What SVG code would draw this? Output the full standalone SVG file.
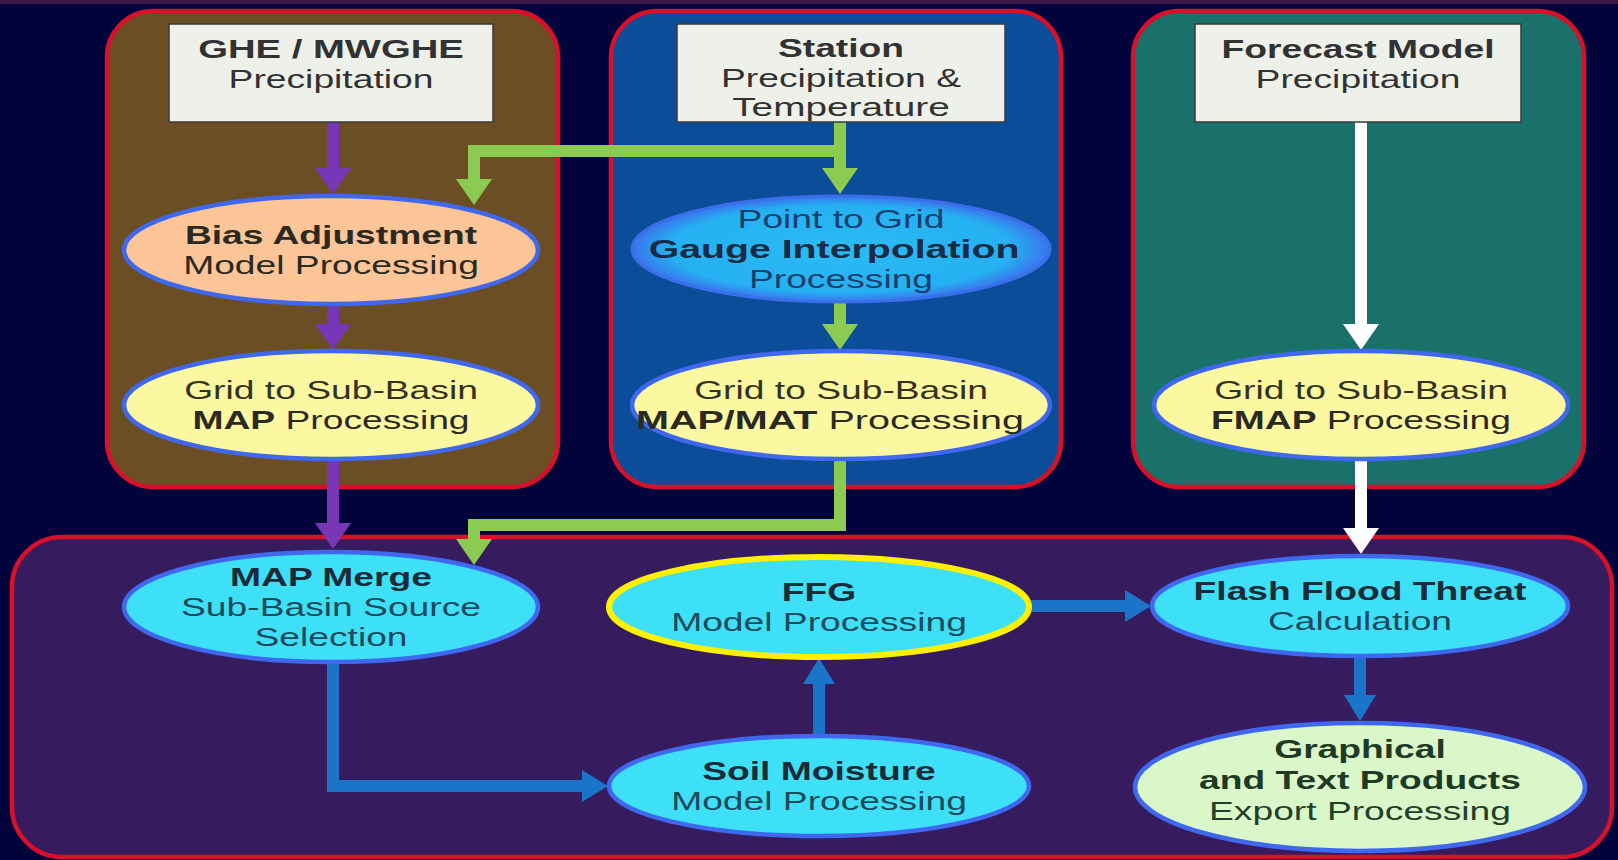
<svg xmlns="http://www.w3.org/2000/svg" width="1618" height="860" viewBox="0 0 1618 860">
<style>
.t{font-family:"Liberation Sans",Arial,Helvetica,sans-serif;font-size:25.5px;text-anchor:middle;fill:#323232}
.b{font-weight:bold}
.panel{stroke:#d8102a;stroke-width:4.5}
.box{fill:#eef0ea;stroke:#3a3a3a;stroke-width:1.5}
.el{stroke:#3f68ee;stroke-width:4.5}
.cy{fill:#3ee0f7}
.ct{fill:#1d4a5c}
.cb{fill:#1c2b38}
.c{fill:none;stroke-linejoin:miter}
.pu{stroke:#7636b6;stroke-width:12}
.gr{stroke:#8ccb52;stroke-width:12}
.wh{stroke:#ffffff;stroke-width:12}
.bl{stroke:#1a74c8;stroke-width:12}
</style>
<defs>
<marker id="hp" markerUnits="userSpaceOnUse" viewBox="0 0 26 36" refX="1" refY="18" markerWidth="26" markerHeight="36" orient="auto"><path d="M0,0 L26,18 L0,36 Z" fill="#7636b6"/></marker>
<marker id="hg" markerUnits="userSpaceOnUse" viewBox="0 0 26 36" refX="1" refY="18" markerWidth="26" markerHeight="36" orient="auto"><path d="M0,0 L26,18 L0,36 Z" fill="#8ccb52"/></marker>
<marker id="hw" markerUnits="userSpaceOnUse" viewBox="0 0 26 36" refX="1" refY="18" markerWidth="26" markerHeight="36" orient="auto"><path d="M0,0 L26,18 L0,36 Z" fill="#ffffff"/></marker>
<marker id="hb" markerUnits="userSpaceOnUse" viewBox="0 0 26 32" refX="1" refY="16" markerWidth="26" markerHeight="32" orient="auto"><path d="M0,0 L26,16 L0,32 Z" fill="#1a74c8"/></marker>
<radialGradient id="gg" cx="50%" cy="50%" r="50%">
<stop offset="0%" stop-color="#2bbcf4"/><stop offset="82%" stop-color="#25b0f2"/><stop offset="100%" stop-color="#3a74ec"/>
</radialGradient>
</defs>
<rect width="1618" height="860" fill="#03033c"/>
<rect width="1618" height="4" fill="#3a1848"/>

<g id="panel-ghe"><rect class="panel" x="107" y="11" width="451" height="476" rx="46" fill="#6c4e24"/></g>
<g id="panel-station"><rect class="panel" x="611" y="11" width="450" height="476" rx="46" fill="#0b4d98"/></g>
<g id="panel-forecast"><rect class="panel" x="1133" y="11" width="451" height="476" rx="46" fill="#19716a"/></g>
<g id="panel-bottom"><rect class="panel" x="12" y="537" width="1600" height="320" rx="50" fill="#361c5f"/></g>

<g id="connectors" class="c">
<path class="c pu" d="M333,122 V169" marker-end="url(#hp)"/>
<path class="c pu" d="M333,304 V325" marker-end="url(#hp)"/>
<path class="c pu" d="M333,460 V524" marker-end="url(#hp)"/>
<path class="c gr" d="M840,122 V169" marker-end="url(#hg)"/>
<path class="c gr" d="M846,151 H474 V180" marker-end="url(#hg)"/>
<path class="c gr" d="M840,302 V325" marker-end="url(#hg)"/>
<path class="c gr" d="M840,460 V525 H474 V540" marker-end="url(#hg)"/>
<path class="c wh" d="M1361,122 V325" marker-end="url(#hw)"/>
<path class="c wh" d="M1361,460 V529" marker-end="url(#hw)"/>
<path class="c bl" d="M333,662 V786 H583" marker-end="url(#hb)"/>
<path class="c bl" d="M819,737 V683" marker-end="url(#hb)"/>
<path class="c bl" d="M1030,606 H1126" marker-end="url(#hb)"/>
<path class="c bl" d="M1360,656 V696" marker-end="url(#hb)"/>
</g>

<g id="ghe">
<rect class="box" x="169" y="24" width="324" height="98"/>
<text class="t b" transform="translate(331,58) scale(1.5,1)">GHE / MWGHE</text>
<text class="t" transform="translate(331,88) scale(1.46,1)">Precipitation</text>
</g>
<g id="station">
<rect class="box" x="677" y="24" width="328" height="98"/>
<text class="t b" transform="translate(841,57) scale(1.46,1)">Station</text>
<text class="t" transform="translate(841,87) scale(1.46,1)">Precipitation &amp;</text>
<text class="t" transform="translate(841,116) scale(1.52,1)">Temperature</text>
</g>
<g id="forecast">
<rect class="box" x="1195" y="24" width="326" height="98"/>
<text class="t b" transform="translate(1358,58) scale(1.46,1)">Forecast Model</text>
<text class="t" transform="translate(1358,88) scale(1.46,1)">Precipitation</text>
</g>

<g id="bias">
<ellipse class="el" cx="331" cy="250" rx="207" ry="54" fill="#fbc597"/>
<text class="t b" style="fill:#2a2a22" transform="translate(331,244) scale(1.46,1)">Bias Adjustment</text>
<text class="t" style="fill:#2a2a22" transform="translate(331,274) scale(1.46,1)">Model Processing</text>
</g>
<g id="map">
<ellipse class="el" cx="331" cy="405" rx="207" ry="54" fill="#fcf8a2"/>
<text class="t" style="fill:#33331f" transform="translate(331,399) scale(1.46,1)">Grid to Sub-Basin</text>
<text class="t" style="fill:#2a2a22" transform="translate(331,429) scale(1.46,1)"><tspan class="b">MAP</tspan> Processing</text>
</g>
<g id="gauge">
<ellipse cx="841" cy="249" rx="209" ry="53" fill="url(#gg)" stroke="#3a6eea" stroke-width="3"/>
<text class="t" style="fill:#1d3f70" transform="translate(841,228) scale(1.46,1)">Point to Grid</text>
<text class="t b" style="fill:#1a2c45" transform="translate(834,258) scale(1.54,1)">Gauge Interpolation</text>
<text class="t" style="fill:#1d3f70" transform="translate(841,288) scale(1.46,1)">Processing</text>
</g>
<g id="mapmat">
<ellipse class="el" cx="841" cy="405" rx="209" ry="54" fill="#fcf8a2"/>
<text class="t" style="fill:#33331f" transform="translate(841,399) scale(1.46,1)">Grid to Sub-Basin</text>
<text class="t" style="fill:#2a2a22" transform="translate(830,429) scale(1.55,1)"><tspan class="b">MAP/MAT</tspan> Processing</text>
</g>
<g id="fmap">
<ellipse class="el" cx="1361" cy="405" rx="207" ry="54" fill="#fcf8a2"/>
<text class="t" style="fill:#33331f" transform="translate(1361,399) scale(1.46,1)">Grid to Sub-Basin</text>
<text class="t" style="fill:#2a2a22" transform="translate(1361,429) scale(1.46,1)"><tspan class="b">FMAP</tspan> Processing</text>
</g>

<g id="merge">
<ellipse class="el cy" cx="331" cy="607" rx="207" ry="55"/>
<text class="t b cb" transform="translate(331,586) scale(1.46,1)">MAP Merge</text>
<text class="t ct" transform="translate(331,616) scale(1.46,1)">Sub-Basin Source</text>
<text class="t ct" transform="translate(331,646) scale(1.46,1)">Selection</text>
</g>
<g id="ffg">
<ellipse class="cy" cx="819" cy="607" rx="210" ry="50" stroke="#fff000" stroke-width="6"/>
<text class="t b cb" transform="translate(819,601) scale(1.46,1)">FFG</text>
<text class="t ct" transform="translate(819,631) scale(1.46,1)">Model Processing</text>
</g>
<g id="soil">
<ellipse class="el cy" cx="819" cy="786" rx="210" ry="50"/>
<text class="t b cb" transform="translate(819,780) scale(1.46,1)">Soil Moisture</text>
<text class="t ct" transform="translate(819,810) scale(1.46,1)">Model Processing</text>
</g>
<g id="flash">
<ellipse class="el cy" cx="1360" cy="606" rx="208" ry="50"/>
<text class="t b cb" transform="translate(1360,600) scale(1.46,1)">Flash Flood Threat</text>
<text class="t ct" transform="translate(1360,630) scale(1.46,1)">Calculation</text>
</g>
<g id="graphical">
<ellipse class="el" cx="1360" cy="787" rx="225" ry="64" fill="#d9f7c8"/>
<text class="t b" style="fill:#1f3a24" transform="translate(1360,758) scale(1.46,1)">Graphical</text>
<text class="t b" style="fill:#1f3a24" transform="translate(1360,789) scale(1.46,1)">and Text Products</text>
<text class="t" style="fill:#23402a" transform="translate(1360,820) scale(1.46,1)">Export Processing</text>
</g>
</svg>
